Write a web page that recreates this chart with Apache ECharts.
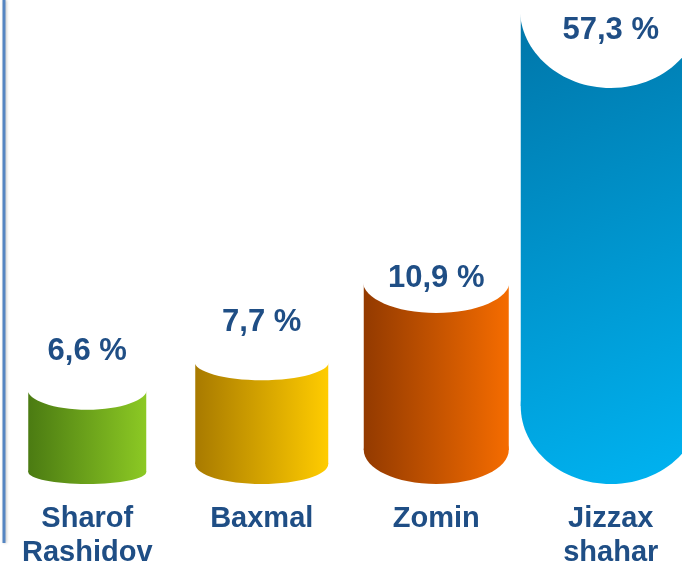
<!DOCTYPE html>
<html>
<head>
<meta charset="utf-8">
<script src="https://cdn.jsdelivr.net/npm/echarts@6/dist/echarts.min.js"></script>
<style>
  html, body { margin: 0; padding: 0; background: #fff; }
  #chart { width: 682px; height: 566px; }
</style>
</head>
<body>
<div id="chart"></div>
<script>
// data
const categories = ["Sharof\nRashidov", "Baxmal", "Zomin", "Jizzax\nshahar"];
const values = [6.6, 7.7, 10.9, 57.3];

// hidden value axis; the last bar runs past max and is drawn to the top
const Y_MIN = 2.8;
const Y_MAX = 21.8;

// look of each cylinder
const barWidths = [118, 133, 145, 180];
const capRy = [21, 19, 32, 80]; // white top ellipse
const baseRy = [12, 20, 34, 78]; // rounded bottom
const labelLift = [58, 58, 35, 58];
const barColors = [
  ["#4B7B12", "#8CC924"],
  ["#A87A00", "#FFCC00"],
  ["#933A00", "#F56C00"],
  ["#0075A8", "#00B4F2"],
];
const textColor = "#1F4E85";

const chart = echarts.init(document.getElementById("chart"));

const option = {
  animation: false,
  grid: {
    left: 0,
    right: -16,
    top: 8,
    bottom: 82,
    outerBoundsMode: "none",
  },
  graphic: [
    {
      type: "line",
      shape: { x1: 4, y1: 0, x2: 4, y2: 543 },
      style: {
        stroke: "#5585C2",
        lineWidth: 3,
        shadowBlur: 3,
        shadowColor: "rgba(0,0,0,0.25)",
        shadowOffsetX: 1,
      },
    },
  ],
  xAxis: {
    type: "category",
    data: categories,
    axisLine: { show: false },
    axisTick: { show: false },
    axisLabel: {
      color: textColor,
      fontFamily: "Liberation Sans, Arial, sans-serif",
      fontWeight: "bold",
      fontSize: 29,
      lineHeight: 34,
      margin: 18,
      interval: 0,
    },
  },
  yAxis: {
    type: "value",
    min: Y_MIN,
    max: Y_MAX,
    show: false,
  },
  series: [
    {
      type: "custom",
      data: values.map((v, i) => [i, v]),
      renderItem: (params, api) => {
        const i = params.dataIndex;
        const v = api.value(1);
        const top = api.coord([i, Math.min(v, Y_MAX)]);
        const base = api.coord([i, Y_MIN]);
        const cx = top[0];
        const hw = barWidths[i] / 2;
        const botC = base[1] - baseRy[i];
        const c = barColors[i];
        // blue one is shaded diagonally, others left -> right
        const fill =
          i === 3
            ? new echarts.graphic.LinearGradient(
                cx - hw, top[1], cx + hw, base[1],
                [{ offset: 0, color: c[0] }, { offset: 1, color: c[1] }],
                true
              )
            : new echarts.graphic.LinearGradient(
                cx - hw, 0, cx + hw, 0,
                [{ offset: 0, color: c[0] }, { offset: 1, color: c[1] }],
                true
              );
        const label = v.toFixed(1).replace(".", ",") + " %";
        return {
          type: "group",
          children: [
            {
              type: "rect",
              shape: { x: cx - hw, y: top[1], width: hw * 2, height: botC - top[1] },
              style: { fill: fill },
            },
            {
              type: "ellipse",
              shape: { cx: cx, cy: botC, rx: hw, ry: baseRy[i] },
              style: { fill: fill },
            },
            {
              type: "ellipse",
              shape: { cx: cx, cy: top[1], rx: hw + 1, ry: capRy[i] },
              style: { fill: "#fff" },
            },
            {
              type: "text",
              style: {
                text: label,
                x: cx,
                y: top[1] + capRy[i] - labelLift[i],
                align: "center",
                verticalAlign: "middle",
                fill: textColor,
                font: 'bold 31px "Liberation Sans", Arial, sans-serif',
              },
            },
          ],
        };
      },
    },
  ],
};

chart.setOption(option);
window.addEventListener("resize", () => chart.resize());
</script>
</body>
</html>
